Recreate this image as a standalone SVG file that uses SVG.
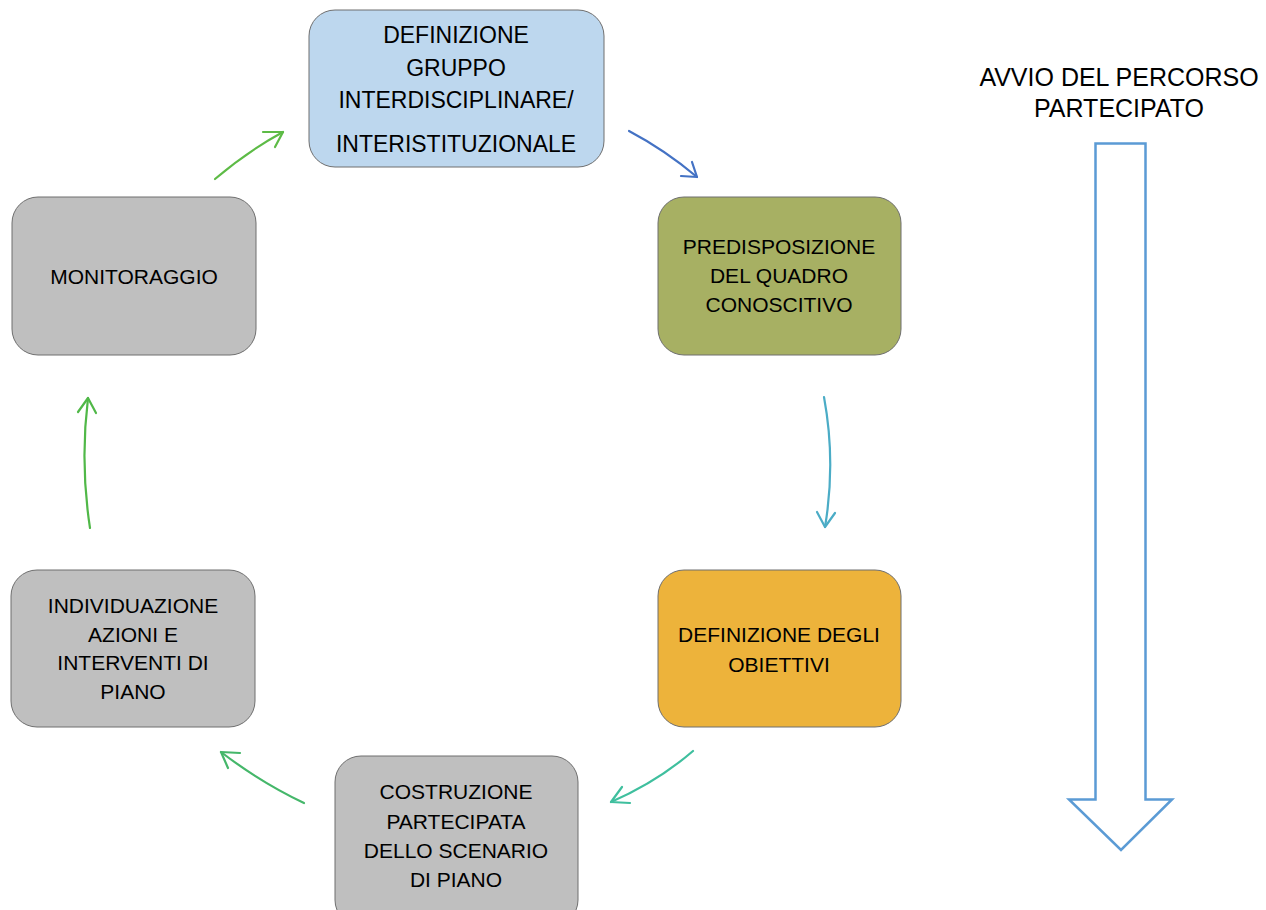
<svg xmlns="http://www.w3.org/2000/svg" width="1266" height="910" viewBox="0 0 1266 910">
<style>
.box{stroke:#6f6f6f;stroke-width:1}
.t{font-family:"Liberation Sans",Arial,sans-serif;font-size:21px;fill:#000;text-anchor:middle}
.tb{font-family:"Liberation Sans",Arial,sans-serif;font-size:23px;fill:#000;text-anchor:middle}
.c{fill:none;stroke-width:2.2;stroke-linecap:round;stroke-linejoin:round}
</style>
<rect width="1266" height="910" fill="#ffffff"/>
<g id="n1"><rect class="box" x="309" y="10" width="295" height="157" rx="26" fill="#BDD7EE"/>
<text class="tb" x="456" y="43">DEFINIZIONE</text><text class="tb" x="456" y="76">GRUPPO</text><text class="tb" x="456" y="108">INTERDISCIPLINARE/</text><text class="tb" x="456" y="152">INTERISTITUZIONALE</text></g>
<g id="n2"><rect class="box" x="658" y="197" width="243" height="158" rx="26" fill="#A7B063"/>
<text class="t" x="779" y="254">PREDISPOSIZIONE</text><text class="t" x="779" y="283">DEL QUADRO</text><text class="t" x="779" y="312">CONOSCITIVO</text></g>
<g id="n3"><rect class="box" x="658" y="570" width="243" height="157" rx="26" fill="#EDB33B"/>
<text class="t" x="779" y="642">DEFINIZIONE DEGLI</text><text class="t" x="779" y="672">OBIETTIVI</text></g>
<g id="n4"><rect class="box" x="335" y="756" width="243" height="170" rx="26" fill="#BFBFBF"/>
<text class="t" x="456" y="799">COSTRUZIONE</text><text class="t" x="456" y="829">PARTECIPATA</text><text class="t" x="456" y="858">DELLO SCENARIO</text><text class="t" x="456" y="887">DI PIANO</text></g>
<g id="n5"><rect class="box" x="11" y="570" width="244" height="157" rx="26" fill="#BFBFBF"/>
<text class="t" x="133" y="613">INDIVIDUAZIONE</text><text class="t" x="133" y="642">AZIONI E</text><text class="t" x="133" y="670">INTERVENTI DI</text><text class="t" x="133" y="699">PIANO</text></g>
<g id="n6"><rect class="box" x="12" y="197" width="244" height="158" rx="26" fill="#BFBFBF"/>
<text class="t" x="134" y="284">MONITORAGGIO</text></g>
<g id="label"><text style="font-family:'Liberation Sans',Arial,sans-serif;font-size:25px;text-anchor:middle" x="1119" y="86">AVVIO DEL PERCORSO</text>
<text style="font-family:'Liberation Sans',Arial,sans-serif;font-size:25px;text-anchor:middle" x="1119" y="117">PARTECIPATO</text></g>
<g id="bigarrow"><polygon points="1095.5,143.5 1145.5,143.5 1145.5,799.5 1172,799.5 1121,850 1069,799.5 1095.5,799.5" fill="#ffffff" stroke="#5B9BD5" stroke-width="2.5"/></g>
<g id="connectors">
<path class="c" stroke="#4472C4" d="M629,131 Q665,150 697,177"/><path class="c" stroke="#4472C4" d="M681,176 L697,177 L692,162"/>
<path class="c" stroke="#4BACC6" d="M824,397 Q836,462 825,527"/><path class="c" stroke="#4BACC6" d="M817,512 L825,527 L835,513"/>
<path class="c" stroke="#3FBF9E" d="M693,751 Q657,782 611,802"/><path class="c" stroke="#3FBF9E" d="M622,787 L611,802 L630,803"/>
<path class="c" stroke="#45B76A" d="M304,803 Q260,782 221,752"/><path class="c" stroke="#45B76A" d="M240,753 L221,752 L228,768"/>
<path class="c" stroke="#50B848" d="M90,528 Q80,463 88,398"/><path class="c" stroke="#50B848" d="M78,412 L88,398 L96,413"/>
<path class="c" stroke="#5DBB46" d="M215,179 Q248,151 283,132"/><path class="c" stroke="#5DBB46" d="M263,132 L283,132 L275,147"/>
</g>
</svg>
